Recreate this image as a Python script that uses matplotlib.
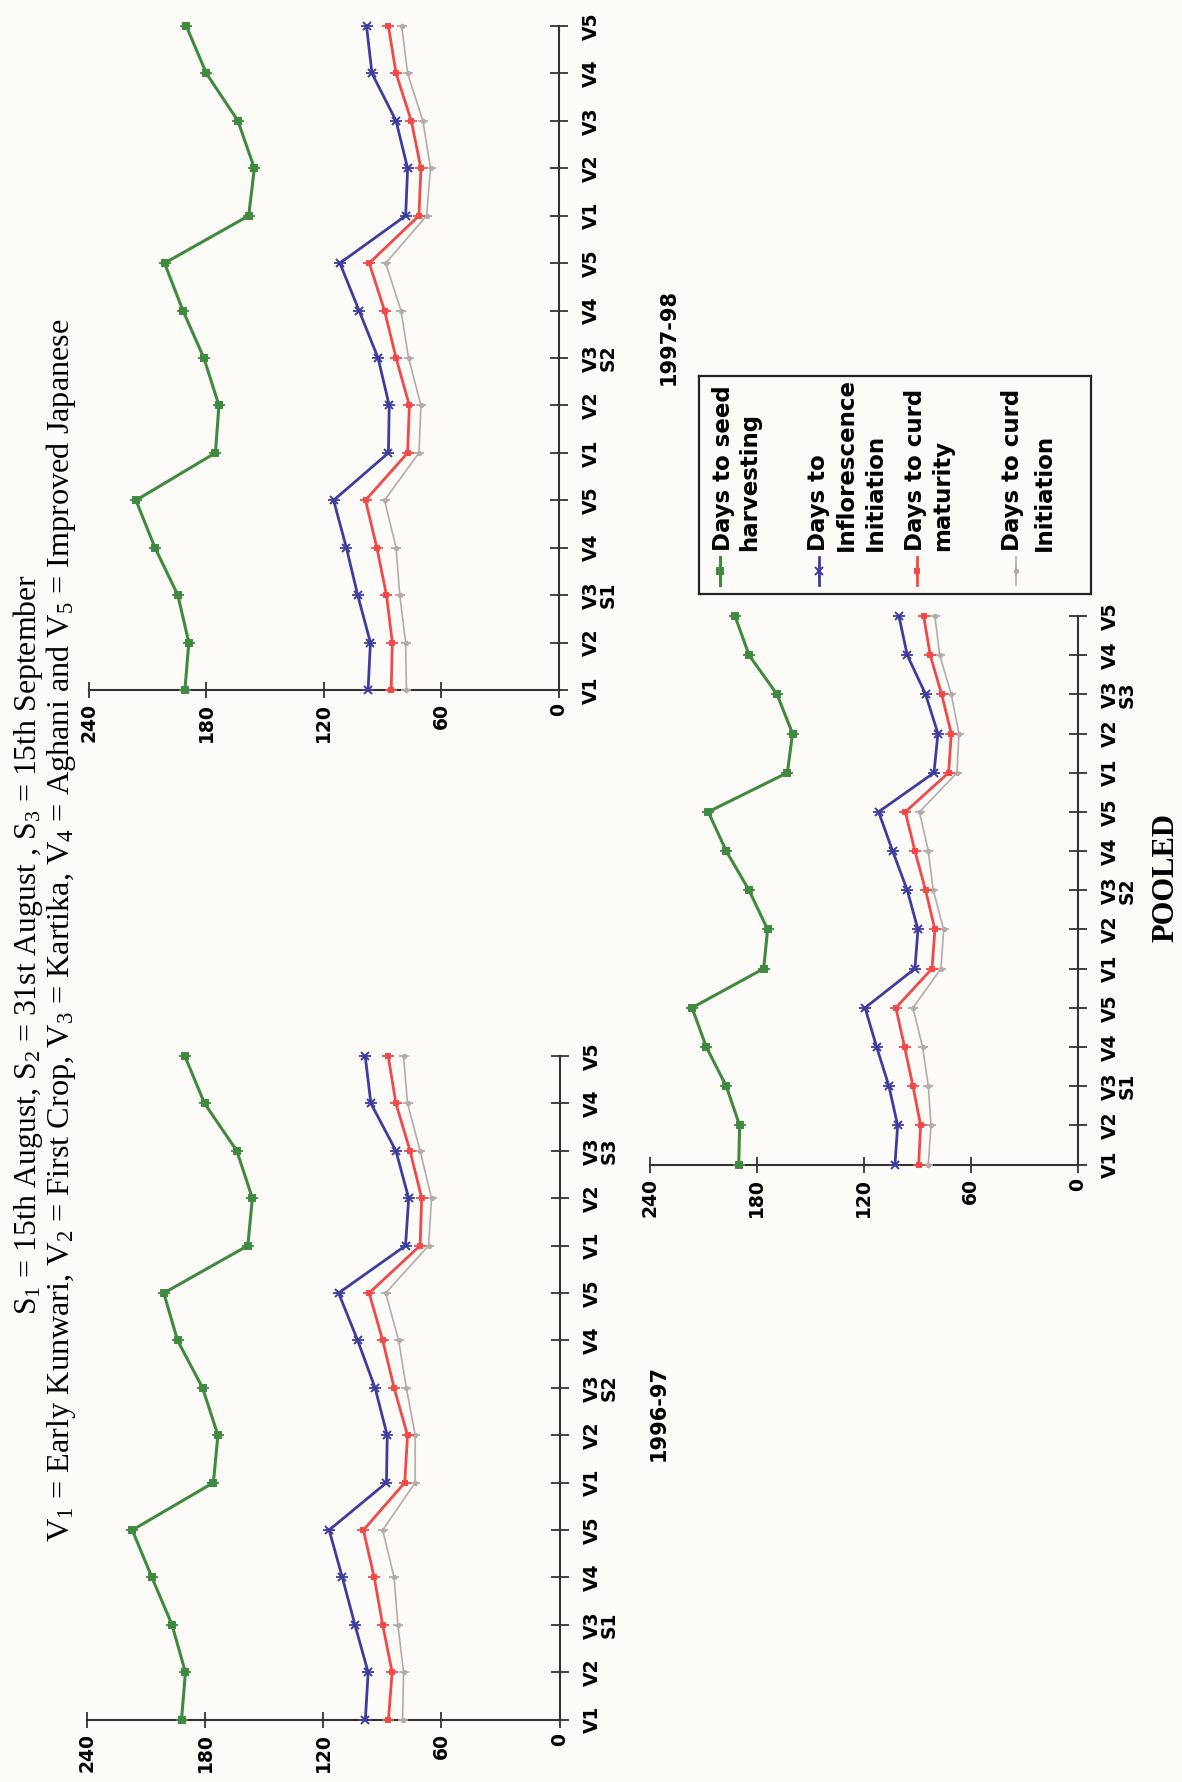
import matplotlib
matplotlib.use('Agg')
import matplotlib.pyplot as plt
from matplotlib.transforms import blended_transform_factory, offset_copy

W, H = 1182, 1782
plt.rcParams['mathtext.fontset'] = 'custom'
plt.rcParams['mathtext.rm'] = 'Liberation Serif'
plt.rcParams['mathtext.it'] = 'Liberation Serif:italic'

fig = plt.figure(figsize=(W / 100, H / 100), dpi=100)
fig.patch.set_facecolor('#fcfbf8')

# ---------------- data ----------------
varieties = ['V1', 'V2', 'V3', 'V4', 'V5'] * 3
sowings = ['S1', 'S2', 'S3']
value_ticks = [0, 60, 120, 180, 240]

seed_9798 = [191, 189, 194.6, 206.3, 216, 175.4, 173.6, 181.3, 192, 201.4, 158.4, 155.5, 163.9, 180, 190.3]
infl_9798 = [97.4, 96.2, 102.7, 108.5, 115, 87, 86.6, 92.3, 102, 111.8, 78.2, 77.2, 83.1, 95.4, 98.2]
mat_9798 = [85.6, 85, 88, 92.9, 98.7, 77.2, 76.3, 83.1, 89, 96.8, 71.4, 70.4, 75.3, 83.1, 87]
init_9798 = [77.8, 78.2, 81.2, 83.1, 89, 71.4, 70.4, 76.7, 80.6, 88.4, 67.5, 65.5, 69.4, 77.2, 80.2]

seed_9697 = [192, 190, 196.8, 207, 217, 175.8, 173.5, 181.3, 194, 201, 158.3, 156, 163.9, 180.3, 190.3]
infl_9697 = [98.6, 97.2, 103.9, 110.3, 117, 87.9, 87.5, 93.7, 102.5, 112.2, 78.2, 76.6, 83.1, 95.8, 98.7]
mat_9697 = [86.9, 85, 89.8, 94.1, 99.6, 78.6, 77.2, 84, 89.8, 96.7, 70.8, 70, 75.9, 83.1, 87]
init_9697 = [79.7, 79.2, 82.1, 84, 89.8, 73.3, 73.3, 77.8, 81.7, 88.3, 66.5, 65, 70.8, 77.2, 79.2]

seed_pool = [190.2, 189.7, 197.2, 208.4, 216.4, 176.2, 174, 184.4, 197.2, 207.3, 162.9, 160, 168.7, 184.4, 192.3]
infl_pool = [102.5, 101, 105.9, 112.8, 119.3, 91.3, 89.6, 95.6, 103.8, 111.7, 80.6, 78.4, 85.3, 95.6, 100.3]
mat_pool = [89.2, 88.1, 92.4, 97.1, 102, 81.7, 80.1, 85.3, 91.3, 96.7, 72.4, 70.9, 76.3, 82.7, 86.4]
init_pool = [83.8, 82.3, 83.8, 87, 92.4, 76.7, 75.2, 81, 83.8, 88.7, 67.7, 66.6, 70.9, 77.4, 80.1]

series_names = ['Days to seed\nharvesting', 'Days to\nInflorescence\nInitiation',
                'Days to curd\nmaturity', 'Days to curd\nInitiation']

# ---------------- styles ----------------
GREEN, BLUE, RED, GRAY = '#3f8a3f', '#3d3d9e', '#f24848', '#b5abab'
AXC = '#333333'
SANS = 'DejaVu Sans'
styles = {
    'seed': dict(color=GREEN, lw=2.2, marker='s', ms=4.5, bar=8),
    'infl': dict(color=BLUE, lw=2.0, marker='x', ms=6, bar=9),
    'mat': dict(color=RED, lw=2.0, marker='s', ms=3.5, bar=9),
    'init': dict(color=GRAY, lw=1.2, marker='o', ms=2.5, bar=7),
}


def px_rect(x0, x1, ytop, ybot):
    return [x0 / W, 1 - ybot / H, (x1 - x0) / W, (ybot - ytop) / H]


def draw_series(ax, vals, key):
    st = styles[key]
    idx = list(range(len(vals)))
    ax.plot(vals, idx, color=st['color'], lw=st['lw'], marker=st['marker'],
            ms=st['ms'], mew=1.4, clip_on=False, zorder=3)
    ax.plot(vals, idx, ls='none', color=st['color'], marker='_', ms=st['bar'],
            mew=1.3, clip_on=False, zorder=3)


def panel(rect, seed, infl, mat, init, slabels):
    ax = fig.add_axes(rect)
    ax.set_facecolor('none')
    draw_series(ax, init, 'init')
    draw_series(ax, mat, 'mat')
    draw_series(ax, infl, 'infl')
    draw_series(ax, seed, 'seed')
    ax.set_xlim(240, 0)
    ax.set_ylim(0, 14)
    for s in ('top', 'left'):
        ax.spines[s].set_visible(False)
    for s in ('bottom', 'right'):
        ax.spines[s].set_color(AXC)
        ax.spines[s].set_linewidth(1.5)
    ax.set_xticks(value_ticks)
    ax.set_xticklabels([str(v) for v in value_ticks], rotation=90,
                       fontsize=13.5, fontweight='bold', family=SANS)
    ax.tick_params(axis='x', direction='inout', length=11, width=1.3,
                   color=AXC, pad=4)
    ax.yaxis.tick_right()
    ax.set_yticks(range(15))
    ax.set_yticklabels(varieties, rotation=90, fontsize=13.5,
                       fontweight='bold', family=SANS)
    for lab in ax.get_yticklabels():
        lab.set_va('center')
        lab.set_ha('left')
    ax.tick_params(axis='y', direction='inout', length=13, width=1.3,
                   color=AXC, pad=10)
    trans = blended_transform_factory(ax.transAxes, ax.transData)
    trans = offset_copy(trans, fig=fig, x=40, y=0, units='dots')
    for i, s in enumerate(slabels):
        if s:
            ax.text(1.0, 2 + 5 * i, s, transform=trans, rotation=90,
                    ha='left', va='center', fontsize=13.5,
                    fontweight='bold', family=SANS)
    return ax


panel(px_rect(89, 558.7, 26, 690), seed_9798, infl_9798, mat_9798, init_9798,
      ['S1', 'S2', ''])
panel(px_rect(87, 559.5, 1056, 1719.7), seed_9697, infl_9697, mat_9697, init_9697,
      sowings)
panel(px_rect(650, 1077.6, 616, 1164.5), seed_pool, infl_pool, mat_pool, init_pool,
      sowings)

# ---------------- panel titles ----------------
def ftext(x, y, s, **kw):
    return fig.text(x / W, 1 - y / H, s, rotation=90, ha='center', va='center', **kw)

ftext(669, 337, '1997-98', fontsize=15, fontweight='bold', family=SANS)
ftext(659, 1413, '1996-97', fontsize=15, fontweight='bold', family=SANS)
ftext(1166, 878, 'POOLED', fontsize=22, fontweight='bold', family='Liberation Serif')

# ---------------- header lines ----------------
renderer = fig.canvas.get_renderer()


def fit_text(x, y, s, target_len, fs0=20, **kw):
    t = ftext(x, y, s, fontsize=fs0, **kw)
    ext = t.get_window_extent(renderer=renderer)
    t.set_fontsize(fs0 * target_len / ext.height)
    return t

fit_text(28, 945, r'S$_1$ = 15th August, S$_2$ = 31st August , S$_3$ = 15th September',
         741, family='Liberation Serif')
fit_text(61, 930, r'V$_1$ = Early Kunwari, V$_2$ = First Crop, V$_3$ = Kartika, '
         r'V$_4$ = Aghani and V$_5$ = Improved Japanese', 1224, family='Liberation Serif')

# ---------------- legend (manual, rotated) ----------------
lx0, lx1, ly0, ly1 = 699, 1091, 376, 594
lax = fig.add_axes(px_rect(lx0, lx1, ly0, ly1))
lax.set_xlim(0, lx1 - lx0)
lax.set_ylim(ly1 - ly0, 0)
lax.set_xticks([])
lax.set_yticks([])
lax.set_facecolor('none')
for s in lax.spines.values():
    s.set_color('#222222')
    s.set_linewidth(1.6)

handle_x = [21, 120, 218, 317]
line_x = [[24, 51], [119, 147, 176], [216.5, 244], [314, 345]]
keys = ['seed', 'infl', 'mat', 'init']
for name, hx, lxs, key in zip(series_names, handle_x, line_x, keys):
    st = styles[key]
    lax.plot([hx, hx], [181, 209], color=st['color'], lw=st['lw'])
    lax.plot([hx], [195], color=st['color'], marker=st['marker'], ms=st['ms'], mew=1.4)
    lax.plot([hx], [195], color=st['color'], marker='|', ms=st['bar'], mew=1.3)
    for lx, line in zip(lxs, name.split('\n')):
        lax.text(lx, 175, line, rotation=90, ha='center', va='bottom',
                 fontsize=16.5, fontweight='bold', family=SANS)

fig.savefig('out.png', dpi=100, facecolor=fig.get_facecolor())
